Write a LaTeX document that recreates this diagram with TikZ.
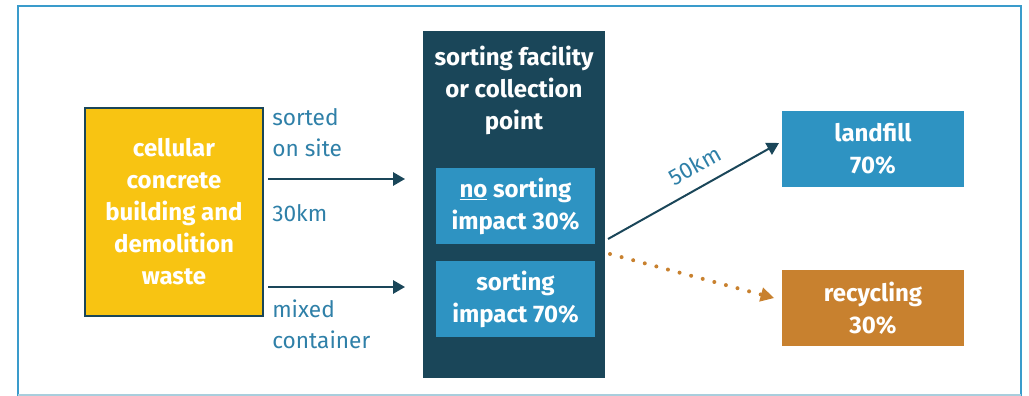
\documentclass[tikz,border=0pt]{standalone}
\usepackage{fontspec}
\setmainfont{Fira Sans}
\usetikzlibrary{arrows.meta}
\definecolor{navy}{HTML}{1A4659}
\definecolor{boxblue}{HTML}{2E93C2}
\definecolor{sunyellow}{HTML}{F8C412}
\definecolor{ochre}{HTML}{C8812F}
\definecolor{labelblue}{HTML}{2F80A8}
\definecolor{frameblue}{HTML}{3A9BCB}
\definecolor{framegray}{HTML}{A9CEDD}
\begin{document}
\begin{tikzpicture}[x=0.75pt, y=-0.75pt,
	box/.style={rectangle, inner sep=0pt, align=center, text=white, font=\fontsize{18}{24}\selectfont\bfseries},
	lbl/.style={inner sep=0pt, align=left, text=labelblue, font=\fontsize{17}{23}\selectfont},
	flow/.style={draw=navy, line width=1.5pt, -{Triangle[length=9pt, width=10pt]}},
	recflow/.style={draw=ochre, line width=3pt, line cap=round, dash pattern=on 0pt off 9pt, -{Triangle[length=10pt, width=11pt, fill=ochre, line width=0pt]}}]
	\useasboundingbox (0,0) rectangle (1029,396);
	\draw[frameblue, line width=1.5pt] (18,396) -- (18,6) -- (1021,6) -- (1021,396);
	\draw[framegray, line width=1.5pt] (18,395) -- (1021,395);
	\node[box, fill=sunyellow, draw=navy, line width=1.5pt, minimum width=133.5pt, minimum height=156pt] (Waste) at (174, 212) {cellular\\concrete\\building and\\demolition\\waste};
	\node[box, fill=navy, minimum width=136.5pt, minimum height=260.25pt] (Facility) at (514, 204.5) {};
	\node[box] (Facility Title) at (514, 90) {sorting facility\\or collection\\point};
	\node[box, fill=boxblue, minimum width=119.25pt, minimum height=57pt] (No Sorting) at (515.5, 206) {\underline{no} sorting\\impact 30\%};
	\node[box, fill=boxblue, minimum width=119.25pt, minimum height=57pt] (Sorting) at (515.5, 299) {sorting\\impact 70\%};
	\node[box, fill=boxblue, minimum width=136.5pt, minimum height=57pt] (Landfill) at (873, 149) {landfill\\70\%};
	\node[box, fill=ochre, minimum width=136.5pt, minimum height=57pt] (Recycling) at (873, 308) {recycling\\30\%};
	\node[lbl, anchor=west] (Sorted Label) at (272, 132.5) {sorted\\on site};
	\node[lbl, anchor=west] (Distance Label) at (272, 213) {30km};
	\node[lbl, anchor=west] (Mixed Label) at (272, 324) {mixed\\container};
	\coordinate (Sorted Start) at (268, 179);
	\coordinate (Sorted End) at (405, 179);
	\coordinate (Mixed Start) at (268, 287);
	\coordinate (Mixed End) at (405, 287);
	\coordinate (Landfill Start) at (608, 239);
	\coordinate (Landfill End) at (779, 143);
	\coordinate (Recycling Start) at (610, 254);
	\coordinate (Recycling End) at (774, 298);
	\draw[flow] (Sorted Start) -- (Sorted End);
	\draw[flow] (Mixed Start) -- (Mixed End);
	\draw[flow] (Landfill Start) -- node[lbl, sloped, above=9pt, pos=0.57] (Landfill Distance) {50km} (Landfill End);
	\draw[recflow] (Recycling Start) -- (Recycling End);
\end{tikzpicture}
\end{document}
